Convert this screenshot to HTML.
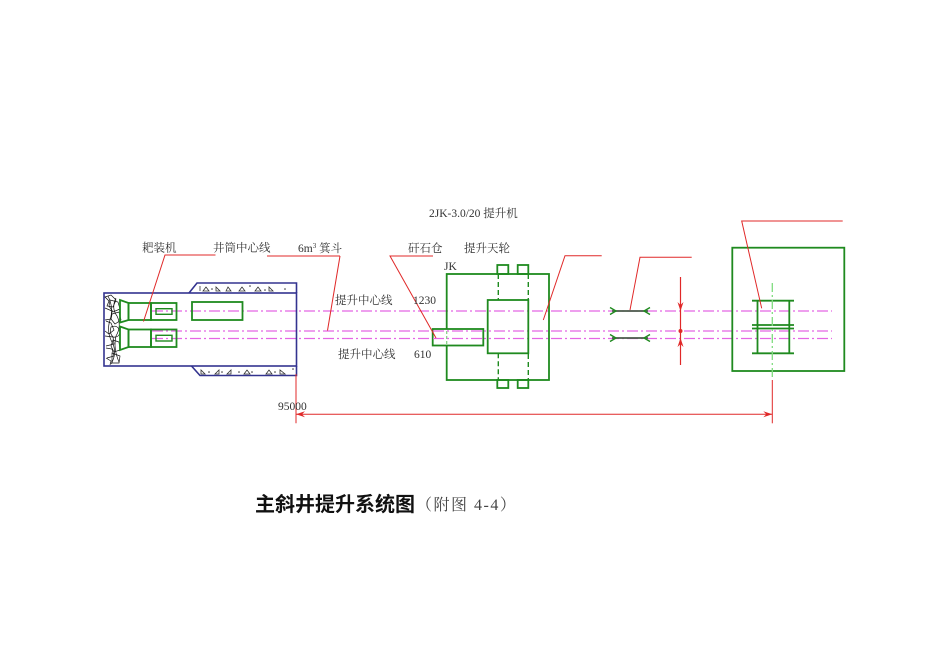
<!DOCTYPE html>
<html>
<head>
<meta charset="utf-8">
<style>
html,body{margin:0;padding:0;background:#fff;}
svg{display:block;}
text{font-family:"Liberation Serif","Noto Serif CJK SC",serif;fill:#333;}
</style>
</head>
<body>
<svg width="950" height="672" viewBox="0 0 950 672" xmlns="http://www.w3.org/2000/svg">
<rect width="950" height="672" fill="#fff"/>

<!-- magenta centre lines -->
<g stroke="#e466e4" stroke-width="1.3" stroke-dasharray="11 3 2 3" fill="none">
  <line x1="152" y1="311" x2="832" y2="311"/>
  <line x1="152" y1="331" x2="832" y2="331"/>
  <line x1="152" y1="338.5" x2="832" y2="338.5"/>
</g>

<!-- tunnel (navy) -->
<g stroke="#33338f" stroke-width="1.6" fill="none">
  <rect x="104" y="293" width="192.5" height="73"/>
  <polyline points="189,293 197,283 296.5,283 296.5,293"/>
  <polyline points="191.5,366 200,375.5 296.5,375.5 296.5,366"/>
</g>
<!-- band hatching -->
<g fill="none" stroke="#333" stroke-width="0.8">
  <line x1="200" y1="286" x2="200" y2="291"/>
  <path d="M203,291 l3,-4 l3,4z M226,291 l2,-4 l3,4z M239,291 l3,-4 l3,4z M255,291 l3,-4 l3,4z M269,291 l0,-4 l4,4z M216,291 l0,-4 l4,4z"/>
  <path d="M201,374 l0,-4 l4,4z M215,374 l4,-4 l0,4z M227,374 l4,-4 l0,4z M244,374 l3,-4 l3,4z M266,374 l3,-4 l3,4z M280,374 l0,-4 l5,4z"/>
</g>
<g fill="#333">
  <circle cx="212" cy="289" r="0.8"/><circle cx="250" cy="286" r="0.8"/><circle cx="265" cy="290" r="0.8"/><circle cx="285" cy="289" r="0.8"/>
  <circle cx="209" cy="372" r="0.8"/><circle cx="222" cy="372" r="0.8"/><circle cx="239" cy="372" r="0.8"/><circle cx="252" cy="372" r="0.8"/><circle cx="275" cy="372" r="0.8"/><circle cx="293" cy="369" r="0.8"/>
</g>

<!-- rubble -->
<g fill="none" stroke="#111" stroke-width="0.7">
  <path d="M105,297 l6,-2 l5,5 l-3,7 l-6,-1 l2,-5 z"/>
  <path d="M110,300 l8,2 l2,7 l-7,3 l-4,-6 z"/>
  <path d="M105,308 l7,3 l-1,8 l-6,1"/>
  <path d="M112,314 l7,-2 l2,8 l-6,4 l-4,-5 z"/>
  <path d="M106,321 l5,2 l3,7 l-5,4 l-4,-3"/>
  <path d="M111,327 q7,-3 9,5 q-1,6 -7,5 q-4,-4 -2,-10z"/>
  <path d="M105,336 l8,1 l1,7 l-8,2"/>
  <path d="M113,340 l6,2 l1,8 l-6,2 l-3,-6 z"/>
  <path d="M106,348 l6,1 l2,7 l-7,2"/>
  <path d="M112,353 l8,3 l-1,7 l-7,0 z"/>
  <path d="M106,358 l5,3 l-1,4"/>
  <path d="M108,296 q6,12 2,24 q-4,12 3,24 q4,10 -2,20"/>
  <path d="M116,298 q-5,10 1,18 q5,10 -1,20 q-3,12 3,26"/>
</g>

<!-- loader machines (green) -->
<g stroke="#1f8a1f" stroke-width="1.8" fill="none">
  <polygon points="120,300 128.5,303 128.5,320 120,322.5"/>
  <rect x="128.5" y="303" width="22.5" height="17"/>
  <rect x="151" y="303" width="25.5" height="17"/>
  <rect x="156" y="308.7" width="16" height="5.6" stroke-width="1.4"/>
  <polygon points="120,326.5 128.5,329.5 128.5,347 120,350"/>
  <rect x="128.5" y="329.5" width="22.5" height="17.5"/>
  <rect x="151" y="329.5" width="25.5" height="17.5"/>
  <rect x="156" y="335.3" width="16" height="5.7" stroke-width="1.4"/>
  <rect x="192" y="302" width="50.5" height="18"/>
</g>

<!-- JK hoist (green) -->
<g stroke="#1f8a1f" stroke-width="1.8" fill="none">
  <rect x="446.7" y="274" width="102.3" height="106"/>
  <rect x="497.3" y="265" width="11" height="9"/>
  <rect x="517.7" y="265" width="10.6" height="9"/>
  <rect x="497.3" y="380" width="11" height="8"/>
  <rect x="517.7" y="380" width="10.6" height="8"/>
  <rect x="487.7" y="300" width="40.6" height="53.3"/>
  <rect x="432.7" y="329" width="50.6" height="16.5" fill="#fff"/>
</g>
<g stroke="#1f8a1f" stroke-width="1.4" stroke-dasharray="5 3" fill="none">
  <line x1="498.3" y1="274" x2="498.3" y2="300"/>
  <line x1="498.3" y1="353.3" x2="498.3" y2="380"/>
  <line x1="528.3" y1="274" x2="528.3" y2="380"/>
</g>
<line x1="446.7" y1="331" x2="446.7" y2="345" stroke="#7fcf7f" stroke-width="1.2" stroke-dasharray="3 2"/>
<g stroke="#e466e4" stroke-width="1.3" stroke-dasharray="11 3 2 3" fill="none">
  <line x1="433" y1="331" x2="483" y2="331"/>
  <line x1="433" y1="338.5" x2="483" y2="338.5"/>
</g>

<!-- ropes with chevrons -->
<g fill="none">
  <line x1="612" y1="311" x2="648" y2="311" stroke="#4a5a4a" stroke-width="1.8"/>
  <line x1="612" y1="338" x2="648" y2="338" stroke="#4a5a4a" stroke-width="1.8"/>
  <g stroke="#1f8a1f" stroke-width="1.4">
    <polyline points="610,307.5 616,311 610,314.5"/>
    <polyline points="650,307.5 644,311 650,314.5"/>
    <polyline points="610,334.5 616,338 610,341.5"/>
    <polyline points="650,334.5 644,338 650,341.5"/>
  </g>
</g>

<!-- red vertical dimension -->
<g stroke="#e02828" stroke-width="1.2" fill="none">
  <line x1="680.5" y1="277" x2="680.5" y2="365"/>
</g>
<g fill="#e02828">
  <path d="M680.5,311 l-3,-9 l3,3 l3,-3z"/>
  <path d="M680.5,338 l-3,9 l3,-3 l3,3z"/>
  <circle cx="680.5" cy="331" r="2"/>
</g>

<!-- sheave wheel box -->
<g stroke="#1f8a1f" stroke-width="1.8" fill="none">
  <rect x="732.3" y="247.7" width="112" height="123.3"/>
  <line x1="752" y1="300.7" x2="794" y2="300.7"/>
  <line x1="752" y1="325" x2="794" y2="325"/>
  <line x1="752" y1="328.5" x2="794" y2="328.5"/>
  <line x1="752" y1="353.3" x2="794" y2="353.3"/>
  <line x1="757.5" y1="300.7" x2="757.5" y2="353.3"/>
  <line x1="789.3" y1="300.7" x2="789.3" y2="353.3"/>
</g>
<line x1="772.3" y1="283" x2="772.3" y2="380" stroke="#7fdc7f" stroke-width="1.3" stroke-dasharray="9 3 2 3"/>

<!-- red leaders -->
<g stroke="#e02828" stroke-width="1" fill="none">
  <polyline points="143.5,321.5 165,255 215.5,255"/>
  <line x1="267" y1="256" x2="340" y2="256"/>
  <line x1="340" y1="256" x2="327.5" y2="330.5"/>
  <polyline points="436,338 390,256 433,256"/>
  <polyline points="543.3,320 565,255.7 601.7,255.7"/>
  <polyline points="630,310 640,257.3 691.7,257.3"/>
  <polyline points="761.7,308.3 741.7,221 842.7,221"/>
  <line x1="296" y1="374" x2="296" y2="423.3"/>
  <line x1="772.3" y1="380" x2="772.3" y2="423.3"/>
  <line x1="296" y1="414.3" x2="772.3" y2="414.3"/>
</g>
<g fill="#e02828">
  <path d="M296,414.3 l9,-3 l-3,3 l3,3z"/>
  <path d="M772.3,414.3 l-9,-3 l3,3 l-3,3z"/>
</g>

<!-- labels -->
<g font-size="11.5">
  <text x="429" y="217">2JK-3.0/20 提升机</text>
  <text x="142" y="251.5">耙装机</text>
  <text x="213" y="251.5">井筒中心线</text>
  <text x="298" y="252">6m<tspan font-size="7" dy="-4">3</tspan><tspan dy="4"> 箕斗</tspan></text>
  <text x="408" y="252">矸石仓</text>
  <text x="464" y="252">提升天轮</text>
  <text x="444" y="270">JK</text>
  <text x="335" y="304">提升中心线</text>
  <text x="413" y="304">1230</text>
  <text x="338" y="358">提升中心线</text>
  <text x="414" y="358">610</text>
  <text x="278" y="410">95000</text>
</g>

<!-- title -->
<text x="255" y="511" font-size="20" font-weight="bold" style="font-family:'Liberation Sans','Noto Sans CJK SC',sans-serif;fill:#111;">主斜井提升系统图</text>
<text x="416" y="510" font-size="16" letter-spacing="1.5" style="fill:#444;">（附图 4-4）</text>
</svg>
</body>
</html>
